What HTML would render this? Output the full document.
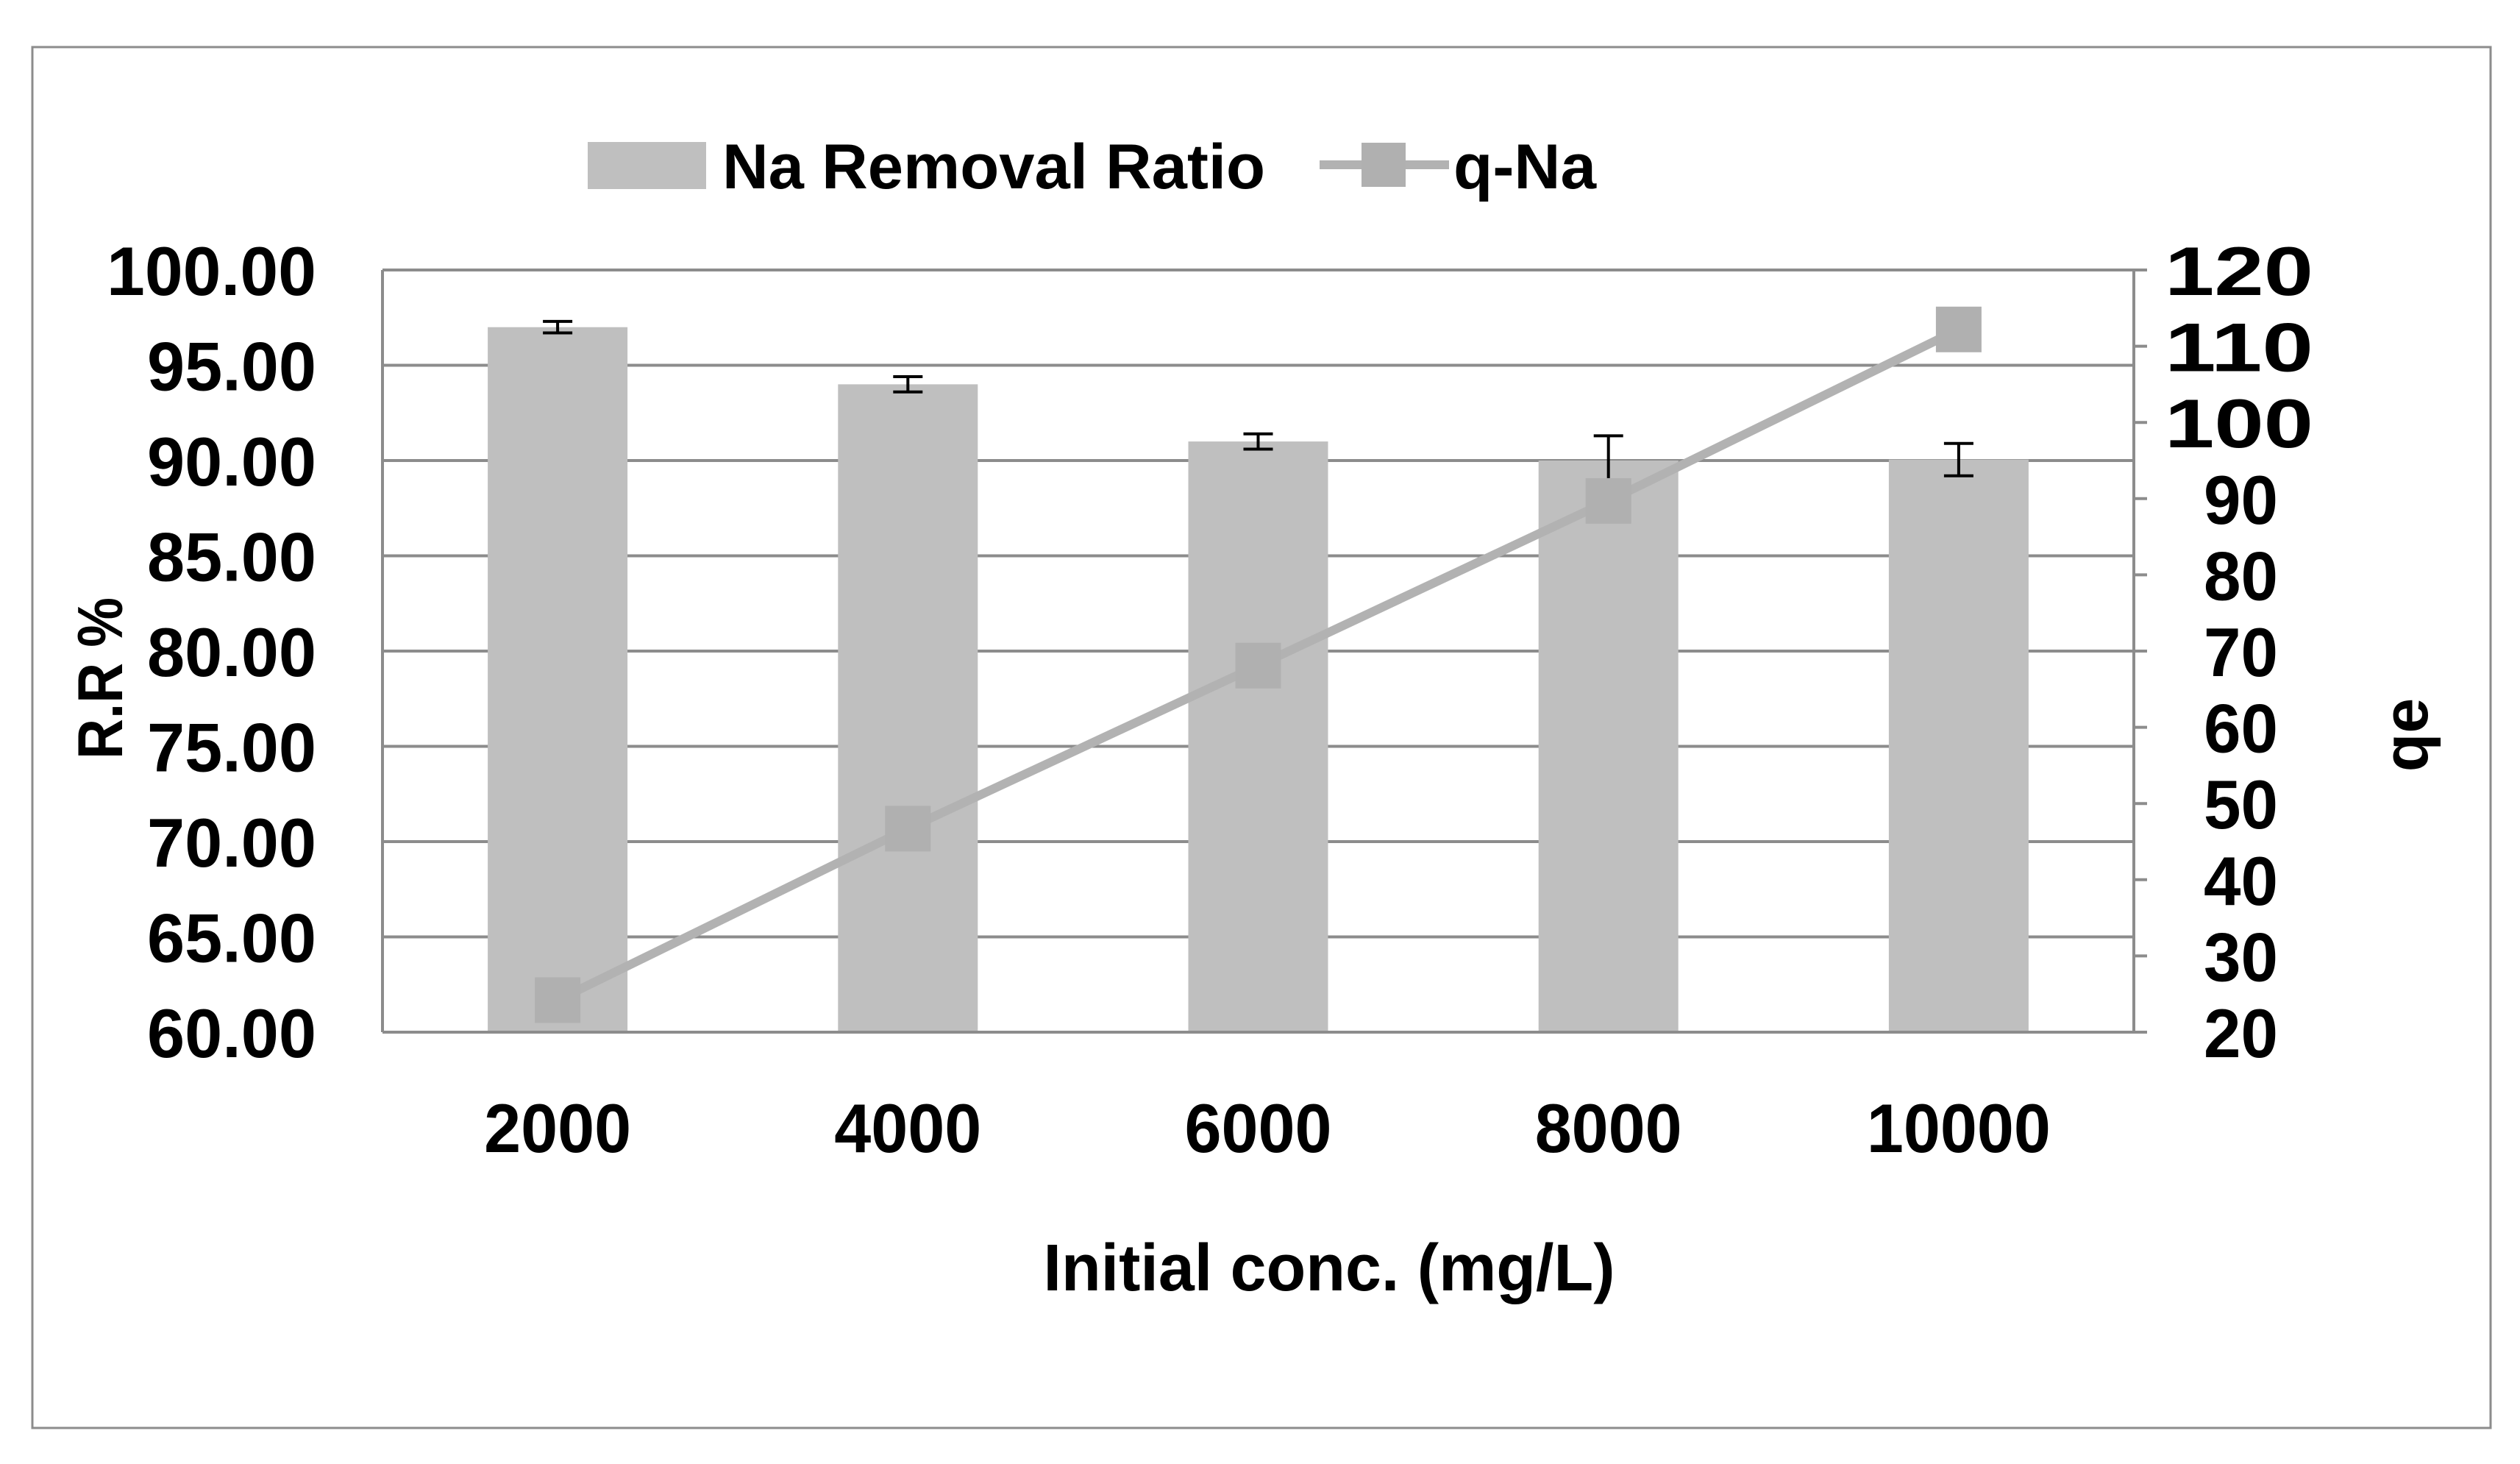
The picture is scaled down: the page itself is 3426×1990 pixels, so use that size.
<!DOCTYPE html>
<html><head><meta charset="utf-8"><style>
html,body{margin:0;padding:0;background:#fff;}
svg{display:block;}
text{font-family:"Liberation Sans Narrow","Liberation Sans",sans-serif;font-weight:bold;fill:#000;}
</style></head><body>
<svg id="chart" width="3426" height="1990" viewBox="0 0 3426 1990" xmlns="http://www.w3.org/2000/svg">
<rect x="44" y="64" width="3342" height="1877" fill="#fff" stroke="#8c8c8c" stroke-width="3"/>
<g id="grid"></g>
<g id="bars"></g>
<g id="axes"></g>
<g id="errs"></g>
<g id="line"></g>
<g id="labels"></g>
<g>
 <rect x="799" y="193" width="161" height="64" fill="#bfbfbf"/>
 <text x="982" y="256" font-size="86" textLength="738" lengthAdjust="spacingAndGlyphs">Na Removal Ratio</text>
 <line x1="1794" y1="224" x2="1970" y2="224" stroke="#b2b2b2" stroke-width="12"/>
 <rect x="1851" y="194" width="60" height="60" fill="#b0b0b0"/>
 <text x="1976" y="256" font-size="86" textLength="194" lengthAdjust="spacingAndGlyphs">q-Na</text>
</g>
<text x="1807" y="1754" font-size="90" text-anchor="middle" textLength="777" lengthAdjust="spacingAndGlyphs">Initial conc. (mg/L)</text>
<text transform="translate(166,922) rotate(-90)" font-size="86" text-anchor="middle" textLength="220" lengthAdjust="spacingAndGlyphs">R.R %</text>
<text transform="translate(3300,999) rotate(-90)" font-size="86" text-anchor="middle">qe</text>
</svg>
<script>
const categories = ["2000","4000","6000","8000","10000"];
const removalRatio = [97.0, 94.0, 91.0, 90.0, 90.05];
const removalErr = [0.3, 0.4, 0.4, 1.3, 0.85];
const qNa = [24.2, 46.7, 68.1, 89.7, 112.2];
const leftTicks = [60,65,70,75,80,85,90,95,100];
const rightTicks = [20,30,40,50,60,70,80,90,100,110,120];

const NS = "http://www.w3.org/2000/svg";
const L = 520, R = 2901, T = 367, B = 1403;
const yL = v => B - (v - 60) / 40 * (B - T);
const yR = v => B - (v - 20) / 100 * (B - T);
const band = (R - L) / categories.length;
const xC = i => L + band * (i + 0.5);
function mk(parent, tag, attrs) {
  const e = document.createElementNS(NS, tag);
  for (const k in attrs) e.setAttribute(k, attrs[k]);
  document.getElementById(parent).appendChild(e);
  return e;
}
leftTicks.forEach(v => {
  const g = mk("grid", "line", {x1: L, x2: R, y1: yL(v), y2: yL(v), stroke: "#8c8c8c", "stroke-width": 4});
  
  
  const t = mk("labels", "text", {x: 430, y: yL(v) + 34, "font-size": 94, "text-anchor": "end", textLength: v === 100 ? 285 : 230, lengthAdjust: "spacingAndGlyphs"});
  t.textContent = v.toFixed(2);
  
  
});
rightTicks.forEach(v => {
  const tk = mk("axes", "line", {x1: R, x2: R + 18, y1: yR(v), y2: yR(v), stroke: "#8c8c8c", "stroke-width": 4});
  
  
  const three = String(v).length === 3;
  const t = mk("labels", "text", {x: three ? 2943 : 2996, y: yR(v) + 34, "font-size": 94, textLength: three ? 202 : 101, lengthAdjust: "spacingAndGlyphs"});
  t.textContent = v;
  
  
});
categories.forEach((c, i) => {
  const bw = 190;
  const b = mk("bars", "rect", {x: xC(i) - bw / 2, y: yL(removalRatio[i]), width: bw, height: B - yL(removalRatio[i]), fill: "#bfbfbf"});
  
  
  const t = mk("labels", "text", {x: xC(i), y: 1566, "font-size": 94, "text-anchor": "middle", textLength: c.length === 5 ? 250 : 200, lengthAdjust: "spacingAndGlyphs"});
  t.textContent = c;
  
  
  const hi = yL(removalRatio[i] + removalErr[i]), lo = yL(removalRatio[i] - removalErr[i]);
  const p = mk("errs", "path", {d: `M${xC(i)-20},${hi}H${xC(i)+20}M${xC(i)},${hi}V${lo}M${xC(i)-20},${lo}H${xC(i)+20}`, stroke: "#000", "stroke-width": 4, fill: "none"});
  
  
});
[L, R].forEach(x => {
  const ax = mk("axes", "path", {d: `M${x},${T}V${B}`, stroke: "#8c8c8c", "stroke-width": 4});
  
  
});
const bl = mk("axes", "line", {x1: L, x2: R, y1: B, y2: B, stroke: "#8c8c8c", "stroke-width": 4});


const pl = mk("line", "polyline", {points: qNa.map((v, i) => xC(i) + "," + yR(v)).join(" "), fill: "none", stroke: "#b2b2b2", "stroke-width": 12});


qNa.forEach((v, i) => {
  const m = mk("line", "rect", {x: xC(i) - 31, y: yR(v) - 31, width: 62, height: 62, fill: "#b0b0b0"});
  
  
});
</script>
</body></html>
